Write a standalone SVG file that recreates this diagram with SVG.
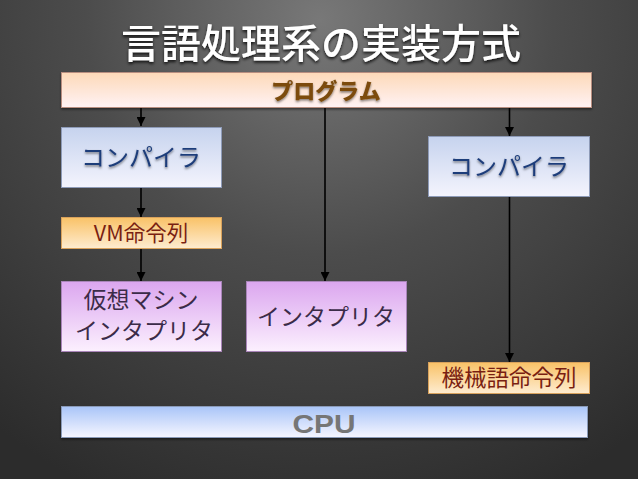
<svg xmlns="http://www.w3.org/2000/svg" width="638" height="479" viewBox="0 0 638 479">
<defs>
<radialGradient id="bg" cx="320" cy="20" r="520" gradientUnits="userSpaceOnUse">
<stop offset="0" stop-color="#787878"/>
<stop offset="0.45" stop-color="#4c4c4c"/>
<stop offset="1" stop-color="#2c2c2c"/>
</radialGradient>
<linearGradient id="gProg" x1="0" y1="0" x2="0" y2="1"><stop offset="0" stop-color="#fdd9b8"/><stop offset="1" stop-color="#fff2f4"/></linearGradient>
<linearGradient id="gComp" x1="0" y1="0" x2="0" y2="1"><stop offset="0" stop-color="#c6d3ee"/><stop offset="1" stop-color="#f4f4fd"/></linearGradient>
<linearGradient id="gOrg" x1="0" y1="0" x2="0" y2="1"><stop offset="0" stop-color="#f9c267"/><stop offset="1" stop-color="#feecd0"/></linearGradient>
<linearGradient id="gPur" x1="0" y1="0" x2="0" y2="1"><stop offset="0" stop-color="#dba6ef"/><stop offset="1" stop-color="#fcf0fe"/></linearGradient>
<linearGradient id="gCpu" x1="0" y1="0" x2="0" y2="1"><stop offset="0" stop-color="#a9c5f8"/><stop offset="1" stop-color="#f6f6ff"/></linearGradient>
<filter id="sh" x="-10%" y="-20%" width="120%" height="150%"><feDropShadow dx="0" dy="1.5" stdDeviation="1" flood-color="#000" flood-opacity="0.5"/></filter>
<filter id="tsh" x="-10%" y="-30%" width="120%" height="160%"><feDropShadow dx="0" dy="2" stdDeviation="1.5" flood-color="#000" flood-opacity="0.8"/></filter>
<marker id="ah2" viewBox="0 0 10 10" refX="10" refY="5" markerWidth="9" markerHeight="9" orient="auto" markerUnits="userSpaceOnUse"><path d="M0,0 L10,5 L0,10 z" fill="#000"/></marker>
</defs>
<style>
text{font-family:"Noto Sans CJK JP","Noto Sans",sans-serif;text-anchor:middle}
.title{fill:#ffffff;font-size:40px;font-weight:500}
.ptxt{font-size:22px;font-weight:900;fill:#7b4b0d}
.cputxt{font-family:"Liberation Sans",Arial,sans-serif;font-weight:bold;font-size:26px;fill:#767676}
.box{stroke-width:1}
.prog{fill:url(#gProg);stroke:#b88e80}
.comp{fill:url(#gComp);stroke:#8e9bb8}
.org{fill:url(#gOrg);stroke:#d9a25c}
.pur{fill:url(#gPur);stroke:#a985b9}
.cpu{fill:url(#gCpu);stroke:#8a9ab8}
.tComp{fill:#1f3d7a;font-size:24px}
.tOrg{fill:#7a1f12;font-size:21.5px}
.tPur{fill:#3b2b48;font-size:23px}
.conn line{stroke:#000;stroke-width:1.6;fill:none;marker-end:url(#ah2)}
</style>
<rect width="638" height="479" fill="url(#bg)"/>
<text class="title" x="321" y="58" filter="url(#tsh)">言語処理系の実装方式</text>

<g class="conn">
<line x1="141" y1="108" x2="141" y2="126"/>
<line x1="325" y1="108" x2="325" y2="281"/>
<line x1="509.5" y1="108" x2="509.5" y2="136"/>
<line x1="141" y1="188" x2="141" y2="217"/>
<line x1="141" y1="248" x2="141" y2="281"/>
<line x1="509.5" y1="197" x2="509.5" y2="362"/>
</g>

<g id="program">
<rect class="box prog" x="61.5" y="72.5" width="530" height="35" filter="url(#sh)"/>
<text class="ptxt" x="326" y="98.5" filter="url(#sh)">プログラム</text>
</g>
<g id="compiler1">
<rect class="box comp" x="61.5" y="127.5" width="160" height="60"/>
<text class="tComp" x="141" y="166" filter="url(#sh)">コンパイラ</text>
</g>
<g id="compiler2">
<rect class="box comp" x="428.5" y="136.5" width="161" height="60"/>
<text class="tComp" x="509" y="175" filter="url(#sh)">コンパイラ</text>
</g>
<g id="vmcode">
<rect class="box org" x="61.5" y="217.5" width="160" height="31"/>
<text class="tOrg" x="141" y="240.5">VM命令列</text>
</g>
<g id="vminterp">
<rect class="box pur" x="61.5" y="281.5" width="160" height="70"/>
<text class="tPur" x="141" y="308">仮想マシン</text>
<text class="tPur" x="144" y="339">インタプリタ</text>
</g>
<g id="interp">
<rect class="box pur" x="246.5" y="281.5" width="160" height="70"/>
<text class="tPur" x="326" y="325">インタプリタ</text>
</g>
<g id="machinecode">
<rect class="box org" x="428.5" y="362.5" width="161" height="31"/>
<text class="tOrg" x="509" y="386" style="font-size:22.5px">機械語命令列</text>
</g>
<g id="cpu">
<rect class="box cpu" x="61.5" y="406.5" width="526" height="31" filter="url(#sh)"/>
<text class="cputxt" x="324" y="433" textLength="63" lengthAdjust="spacingAndGlyphs">CPU</text>
</g>
</svg>
